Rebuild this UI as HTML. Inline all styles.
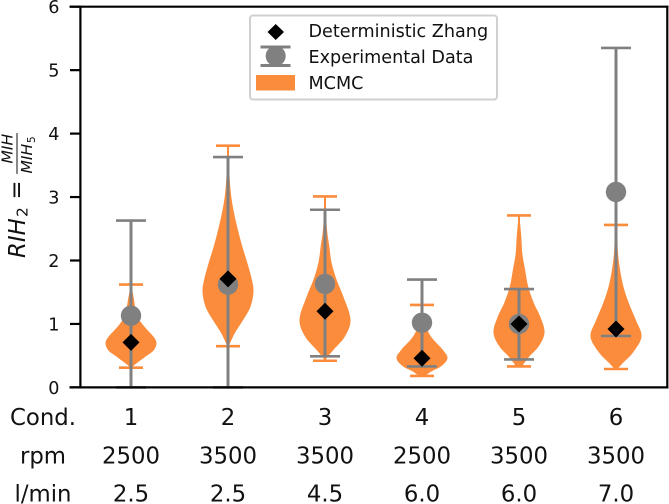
<!DOCTYPE html>
<html>
<head>
<meta charset="utf-8">
<style>
html,body{margin:0;padding:0;background:#fff;}
svg{display:block;font-family:"DejaVu Sans","Liberation Sans",sans-serif;filter:blur(0.35px);}
</style>
</head>
<body>
<svg id="chart" xmlns="http://www.w3.org/2000/svg" width="669" height="504" viewBox="0 0 669 504">
  <rect width="669" height="504" fill="#fff"/>
  <g id="violins"></g>
  <g id="errors"></g>
  <g id="diamonds"></g>
  <g id="frame">
    <line x1="69.5" x2="668.3" y1="6.7" y2="6.7" stroke="#000" stroke-width="2.2"/>
    <line x1="667.3" x2="667.3" y1="5.6" y2="388.5" stroke="#000" stroke-width="2.2"/>
    <line x1="80.4" x2="80.4" y1="5.6" y2="388.5" stroke="#000" stroke-width="2.2"/>
    <line x1="69.5" x2="668.3" y1="387.4" y2="387.4" stroke="#000" stroke-width="2.2"/>
  </g>
  <g id="yticks" font-size="17.6" fill="#111"></g>
  <g id="xrows" font-size="22.8" fill="#111" text-anchor="middle"></g>
  <g fill="#111">
    <text transform="translate(25,258) rotate(-90)" font-size="22.8" font-style="italic">RIH</text>
    <text transform="translate(27.5,217) rotate(-90)" font-size="15.5">2</text>
    <text transform="translate(24,199.5) rotate(-90)" font-size="22.8">=</text>
    <text transform="translate(12.5,163.5) rotate(-90)" font-size="15.5" font-style="italic">MIH</text>
    <line x1="17" x2="17" y1="133" y2="174" stroke="#111" stroke-width="1"/>
    <text transform="translate(32,173.5) rotate(-90)" font-size="15.5" font-style="italic">MIH</text>
    <text transform="translate(35,143) rotate(-90)" font-size="10.5">5</text>
  </g>
  <g>
    <rect x="250" y="15.5" width="247" height="84" rx="3" fill="#fff" fill-opacity=".9" stroke="#d0d0d0" stroke-width="2"/>
    <polygon points="275.7,24 284,32 275.7,40 267.5,32" fill="#000"/>
    <g stroke="#808080" stroke-width="3">
      <line x1="260.5" x2="290.5" y1="47" y2="47"/>
      <line x1="260.5" x2="290.5" y1="65.5" y2="65.5"/>
      <line x1="275.7" x2="275.7" y1="47" y2="65.5"/>
      <circle cx="275.7" cy="56" r="10" fill="#808080" stroke="none"/>
    </g>
    <rect x="256" y="75" width="39" height="15.5" fill="#fb8c3c"/>
    <g font-size="17.6" fill="#111">
      <text x="308.5" y="37">Deterministic Zhang</text>
      <text x="308.5" y="63">Experimental Data</text>
      <text x="308.5" y="89">MCMC</text>
    </g>
  </g>
</svg>
<script>
const conditions = ['1', '2', '3', '4', '5', '6'];
const rpmValues = ['2500', '3500', '3500', '2500', '3500', '3500'];
const flowValues = ['2.5', '2.5', '4.5', '6.0', '6.0', '7.0'];
const yTicks = [0, 1, 2, 3, 4, 5, 6];

const zhang = [0.71, 1.71, 1.2, 0.46, 1.0, 0.92];
const expMean = [1.13, 1.62, 1.63, 1.02, 1.0, 3.08];
const expLow = [0, 0, 0.49, 0.33, 0.44, 0.81];
const expHigh = [2.63, 3.63, 2.8, 1.7, 1.55, 5.35];

const violin1Values = [0.31, 0.35, 0.48, 0.58, 0.7, 0.8, 0.96, 1.11, 1.25, 1.38, 1.55, 1.62];
const violin1Density = [0.04, 0.12, 0.55, 0.88, 1, 0.88, 0.52, 0.26, 0.17, 0.12, 0.04, 0.01];
const violin2Values = [0.65, 0.69, 0.85, 1.06, 1.27, 1.51, 1.69, 1.96, 2.22, 2.48, 2.74, 3.0, 3.27, 3.81];
const violin2Density = [0.02, 0.07, 0.26, 0.59, 0.88, 1, 0.94, 0.76, 0.56, 0.39, 0.24, 0.13, 0.07, 0.01];
const violin3Values = [0.42, 0.47, 0.59, 0.8, 1.06, 1.43, 1.69, 1.96, 2.22, 2.48, 2.79, 3.01];
const violin3Density = [0.02, 0.08, 0.33, 0.78, 1, 0.72, 0.46, 0.26, 0.17, 0.08, 0.04, 0.01];
const violin4Values = [0.18, 0.25, 0.33, 0.46, 0.59, 0.75, 0.85, 1.0, 1.15, 1.3];
const violin4Density = [0.12, 0.36, 0.74, 1, 0.82, 0.45, 0.28, 0.12, 0.05, 0.01];
const violin5Values = [0.33, 0.38, 0.48, 0.64, 0.86, 1.11, 1.33, 1.59, 1.85, 2.11, 2.375, 2.64, 2.71];
const violin5Density = [0.12, 0.2, 0.39, 0.76, 1, 0.84, 0.58, 0.36, 0.24, 0.13, 0.09, 0.03, 0.01];
const violin6Values = [0.29, 0.38, 0.54, 0.8, 1.06, 1.33, 1.59, 1.85, 2.11, 2.375, 2.56];
const violin6Density = [0.06, 0.26, 0.65, 1, 0.78, 0.5, 0.29, 0.16, 0.08, 0.05, 0.01];

const violinValues = [violin1Values, violin2Values, violin3Values, violin4Values, violin5Values, violin6Values];
const violinDensity = [violin1Density, violin2Density, violin3Density, violin4Density, violin5Density, violin6Density];

function xScale(i) { return 131 + 97 * i; }
function yScale(v) { return 387.4 - 63.45 * v; }
function widthScale(d) { return 25.5 * d; }

const NS = 'http://www.w3.org/2000/svg';
function make(tag, parent, attrs) {
  const el = document.createElementNS(NS, tag);
  for (const k in attrs) el.setAttribute(k, attrs[k]);
  parent.appendChild(el);
  return el;
}
/* Hermite curve with offset as a function of position along the violin axis */
function slopes(ys, ws) {
  return ys.map(function (y, i) {
    const a = Math.max(i - 1, 0), b = Math.min(i + 1, ys.length - 1);
    return (ws[b] - ws[a]) / (ys[b] - ys[a]);
  });
}
function violinPath(cx, ys, ws) {
  const m = slopes(ys, ws);
  const side = function (sign, idx) {
    let d = '';
    for (let k = 0; k < idx.length - 1; k++) {
      const i = idx[k], j = idx[k + 1];
      const h = (ys[j] - ys[i]) / 3;
      const nums = [cx + sign * (ws[i] + m[i] * h), ys[i] + h, cx + sign * (ws[j] - m[j] * h), ys[j] - h, cx + sign * ws[j], ys[j]];
      d += 'C' + nums.map(n => n.toFixed(2)).join(' ');
    }
    return d;
  };
  const forward = ys.map((_, i) => i);
  const backward = forward.slice().reverse();
  return 'M' + (cx + ws[0]).toFixed(2) + ' ' + ys[0].toFixed(2) + side(1, forward) +
    'L' + (cx - ws[ws.length - 1]).toFixed(2) + ' ' + ys[ys.length - 1].toFixed(2) + side(-1, backward) + 'Z';
}

const gV = document.getElementById('violins');
const gE = document.getElementById('errors');
const gD = document.getElementById('diamonds');
const gY = document.getElementById('yticks');
const gX = document.getElementById('xrows');

conditions.forEach(function (c, i) {
  const cx = xScale(i);
  const vals = violinValues[i], dens = violinDensity[i];
  const body = make('path', gV, { d: violinPath(cx, vals.map(yScale), dens.map(widthScale)), fill: '#fb8c3c' });
  
  
  const vMin = vals[0], vMax = vals[vals.length - 1];
  const stem = make('line', gV, { x1: cx, x2: cx, y1: yScale(vMin), y2: yScale(vMax), stroke: '#fb8c3c', 'stroke-width': 2 });
  
  
  [vMin, vMax].forEach(function (v) {
    const cap = make('line', gV, { x1: cx - 12, x2: cx + 12, y1: yScale(v), y2: yScale(v), stroke: '#fb8c3c', 'stroke-width': 2.6 });
    
    
  });

  const bar = make('line', gE, { x1: cx, x2: cx, y1: yScale(expLow[i]), y2: yScale(expHigh[i]), stroke: '#808080', 'stroke-width': 3 });
  
  
  [expLow[i], expHigh[i]].forEach(function (v) {
    const cap = make('line', gE, { x1: cx - 15, x2: cx + 15, y1: yScale(v), y2: yScale(v), stroke: '#808080', 'stroke-width': 2.6 });
    
    
  });
  const dot = make('circle', gE, { cx: cx, cy: yScale(expMean[i]), r: 10.2, fill: '#808080' });
  
  

  const y = yScale(zhang[i]);
  const dia = make('polygon', gD, { points: [[cx, y - 8.5], [cx + 8.5, y], [cx, y + 8.5], [cx - 8.5, y]].join(' '), fill: '#000' });
  
  

  [[conditions, 425], [rpmValues, 463.5], [flowValues, 501.5]].forEach(function (row) {
    const t = make('text', gX, { x: cx, y: row[1] });
    t.textContent = row[0][i];
    
    
  });
});

[['Cond.', 425], ['rpm', 463.5], ['l/min', 501.5]].forEach(function (row) {
  const t = make('text', gX, { x: 43, y: row[1] });
  t.textContent = row[0];
  
  
});

yTicks.forEach(function (v) {
  const y = yScale(v);
  const tick = make('line', gY, { x1: 70, x2: 80, y1: y, y2: y, stroke: '#000', 'stroke-width': 2.2 });
  
  
  const t = make('text', gY, { x: 59.5, y: y + 6.4, 'text-anchor': 'end' });
  t.textContent = v;
  
  
});
</script>
</body>
</html>
